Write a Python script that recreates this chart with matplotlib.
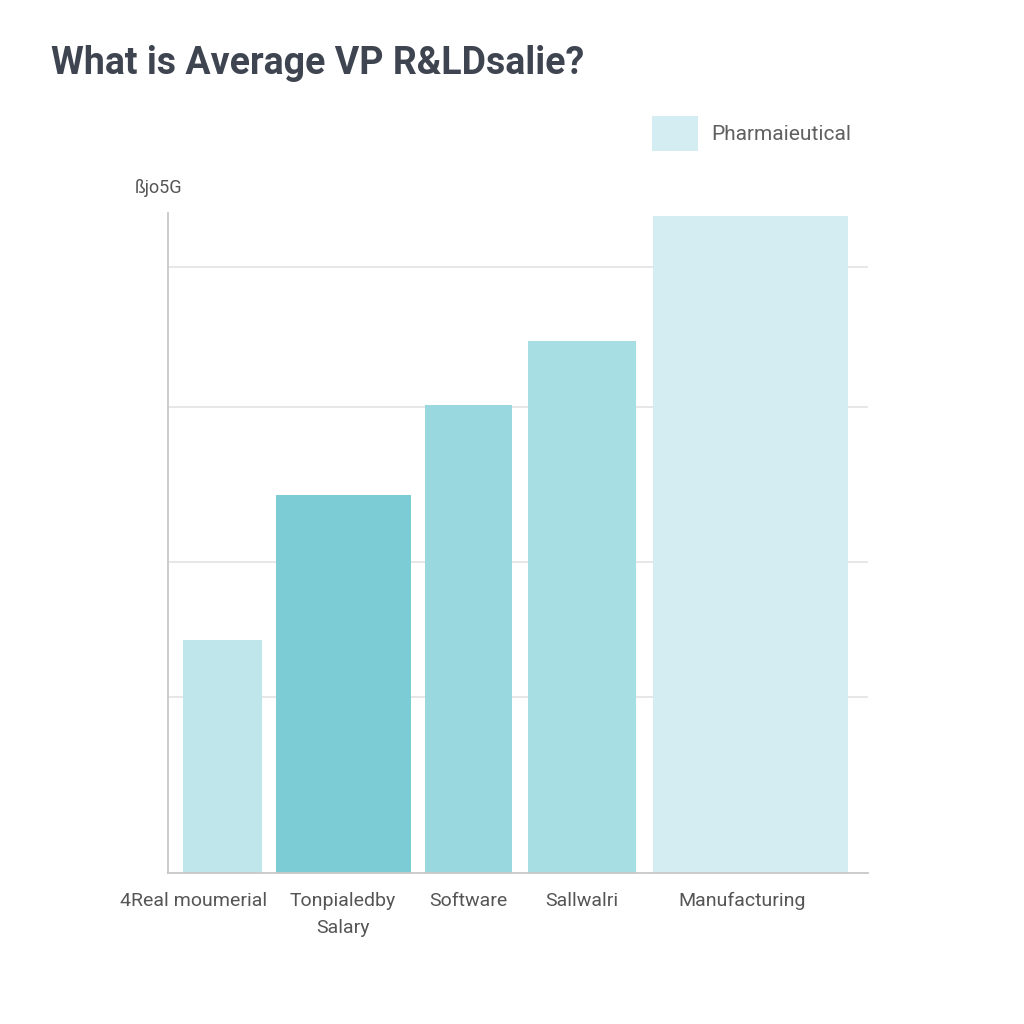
import matplotlib.pyplot as plt

# bar data (arbitrary salary units)
categories = ['4Real moumerial', 'Tonpialedby\nSalary', 'Software', 'Sallwalri', 'Manufacturing']
values = [70.6, 114.5, 141.8, 161.2, 199.1]
centers = [54.5, 175.5, 300.5, 414, 582.5]
widths = [79, 135, 87, 108, 195]
label_pos = [26, 175, 300, 414, 574]
colors = ['#bfe6eb', '#7bccd5', '#98d8de', '#a7dee3', '#d3edf2']
grid_vals = [53.3, 94.2, 141.2, 183.6]

plt.rcParams['font.family'] = ['Roboto', 'DejaVu Sans']

fig = plt.figure(figsize=(10.24, 10.24), dpi=100)
ax = fig.add_axes([0.164, 0.1475, 0.684, 0.6445])

bars = ax.bar(centers, values, width=widths, color=colors, zorder=2)
bars[4].set_label('Pharmaieutical')

ax.set_xlim(0, 700)
ax.set_ylim(0, 200)
ax.set_yticks(grid_vals)
ax.set_yticklabels([])
ax.tick_params(axis='y', length=0)
ax.grid(axis='y', color='#e3e3e3', linewidth=1.2, zorder=0)

ax.set_xticks(label_pos)
ax.set_xticklabels(categories, fontsize=14, color='#555555', linespacing=1.6)
ax.tick_params(axis='x', length=0, pad=14)

for s in ['top', 'right']:
    ax.spines[s].set_visible(False)
for s in ['left', 'bottom']:
    ax.spines[s].set_color('#c8c8c8')
    ax.spines[s].set_linewidth(1.3)

fig.text(0.05, 0.938, 'What is Average VP R&LDsalie?', fontsize=27, fontweight='semibold',
         color='#3e4450', va='center')
fig.text(0.155, 0.816, 'ßjo5G', fontsize=13, color='#555555', ha='center', va='center')

ax.legend(loc='upper left', bbox_to_anchor=(0.665, 1.175), frameon=False, fontsize=15,
          handlelength=2.2, handleheight=2.2, handletextpad=0.6, labelcolor='#606060')

plt.savefig('out.png', dpi=100, facecolor='white')
